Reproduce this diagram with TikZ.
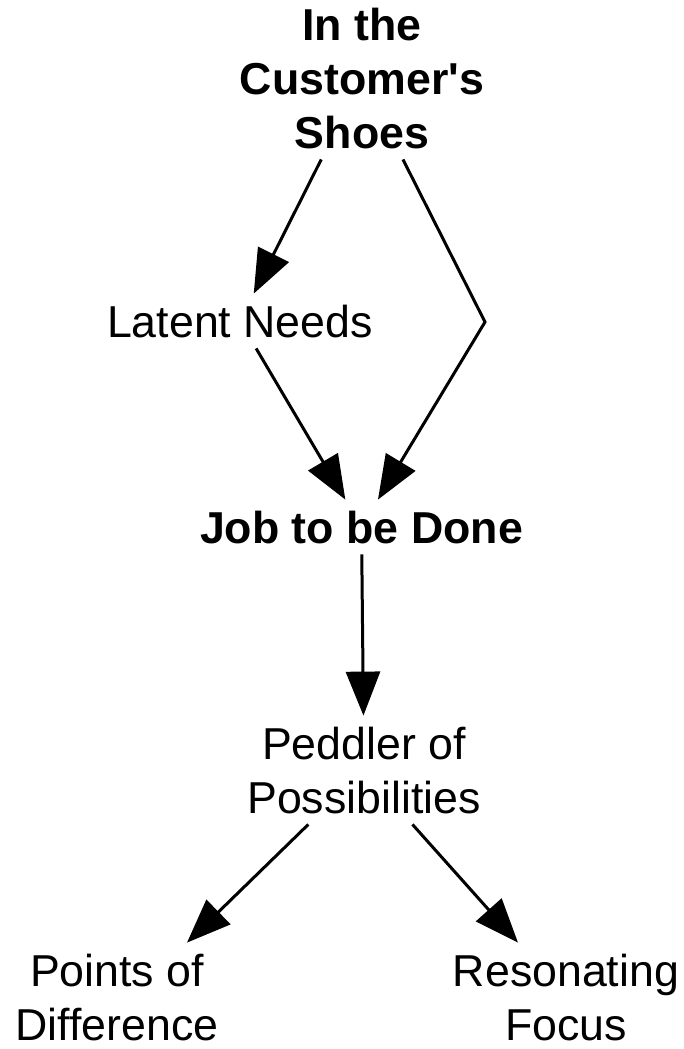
\documentclass[tikz,border=0pt]{standalone}
\usepackage{fontspec}
\setmainfont{Liberation Sans}
\usetikzlibrary{arrows.meta}

\begin{document}
\begin{tikzpicture}[x=1pt,y=-1pt,
  every node/.style={font=\fontsize{44.7}{54}\selectfont,inner sep=0pt,outer sep=11pt,align=center,anchor=base},
  key/.style={font=\fontsize{44.7}{54}\selectfont\bfseries},
  link/.style={line width=3pt,-{Triangle[length=44pt,width=34pt]}}]
\useasboundingbox (0,0) rectangle (684,1049);
\node[key] (shoes) at (362,148) {In the\\Customer\textquotesingle s\\Shoes};
\node (latent) at (240,337) {Latent Needs};
\node[key] (job) at (361.5,543) {Job to be Done};
\node (peddler) at (364,813) {Peddler of\\Possibilities};
\node (points) at (117,1040) {Points of\\Difference};
\node (focus) at (566,1040) {Resonating\\Focus};
\coordinate (bend) at (485,322);
\draw[link] (shoes) -- (latent);
\draw[link] (shoes) -- (bend) -- (job);
\draw[link] (latent) -- (job);
\draw[link] (job) -- (peddler);
\draw[link] (peddler) -- ([xshift=70pt]points.north);
\draw[link] (peddler) -- ([xshift=-48pt]focus.north);
\end{tikzpicture}
\end{document}
